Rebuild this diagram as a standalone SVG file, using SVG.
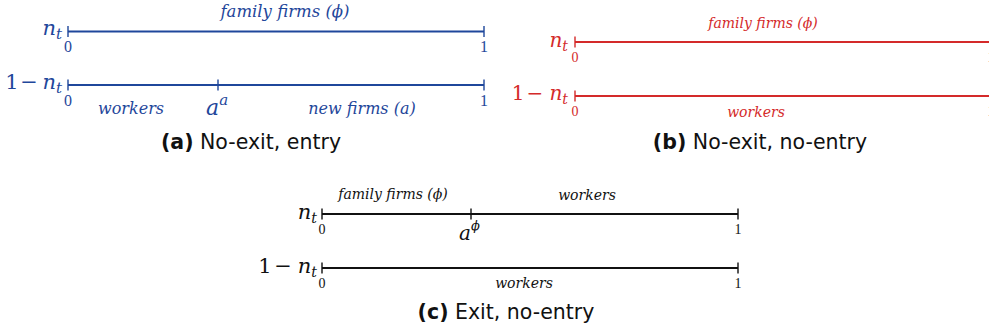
<svg xmlns="http://www.w3.org/2000/svg" width="989" height="334" viewBox="0 0 989 334">
<style>
.m{font-family:"DejaVu Serif","Liberation Serif",serif;font-style:italic}
.u{font-family:"DejaVu Serif","Liberation Serif",serif}
.d{font-family:"Liberation Serif","DejaVu Serif",serif}
.c{font-family:"DejaVu Sans","Liberation Sans",sans-serif;font-size:20.5px}
.ax{stroke-width:2;fill:none}
.tk{stroke-width:1.4;fill:none}
.blue{fill:#1f479b;stroke:#1f479b}
.red{fill:#d42a2a;stroke:#d42a2a}
.blk{fill:#111;stroke:#111}
text{stroke:none}
</style>
<rect width="989" height="334" fill="#fff"/>
<g id="panel-a" class="blue">
  <path class="ax blue" d="M68 31.5H484M68 85H484"/>
  <path class="tk blue" d="M68 26V37M484 26V37M68 79.5V90.5M218 79.5V90.5M484 79.5V90.5"/>
  <text class="m" x="62" y="35" font-size="21" text-anchor="end">n<tspan font-size="15" dy="4">t</tspan></text>
  <text class="u" x="12" y="89" font-size="21" text-anchor="middle">1</text>
  <text class="u" x="29" y="89" font-size="21" text-anchor="middle">−</text>
  <text class="m" x="62" y="89" font-size="21" text-anchor="end">n<tspan font-size="15" dy="4">t</tspan></text>
  <text class="d" x="68" y="52" font-size="16" text-anchor="middle">0</text>
  <text class="d" x="484" y="52" font-size="16" text-anchor="middle">1</text>
  <text class="d" x="68" y="106" font-size="16" text-anchor="middle">0</text>
  <text class="d" x="484" y="106" font-size="16" text-anchor="middle">1</text>
  <text class="m" x="285" y="17" font-size="16.5" text-anchor="middle">family firms (ϕ)</text>
  <text class="m" x="131" y="114" font-size="16" text-anchor="middle">workers</text>
  <text class="m" x="362" y="114" font-size="16" text-anchor="middle">new firms (a)</text>
  <text class="m" x="206" y="115" font-size="22">a<tspan font-size="15" dy="-10">a</tspan></text>
  <text class="c" x="251" y="149" text-anchor="middle" fill="#111"><tspan font-weight="bold">(a)</tspan> No-exit, entry</text>
</g>
<g id="panel-b" class="red">
  <path class="ax red" d="M575 42H991M575 96H991"/>
  <path class="tk red" d="M575 36.5V47.5M991 36.5V47.5M575 90.5V101.5M991 90.5V101.5"/>
  <text class="m" x="568" y="47" font-size="20" text-anchor="end">n<tspan font-size="14" dy="4">t</tspan></text>
  <text class="u" x="518" y="100" font-size="20" text-anchor="middle">1</text>
  <text class="u" x="535" y="100" font-size="20" text-anchor="middle">−</text>
  <text class="m" x="568" y="100" font-size="20" text-anchor="end">n<tspan font-size="14" dy="4">t</tspan></text>
  <text class="d" x="575" y="62" font-size="14" text-anchor="middle">0</text>
  <text class="d" x="991" y="62" font-size="14" text-anchor="middle">1</text>
  <text class="d" x="575" y="116" font-size="14" text-anchor="middle">0</text>
  <text class="d" x="991" y="116" font-size="14" text-anchor="middle">1</text>
  <text class="m" x="763" y="28" font-size="14" text-anchor="middle">family firms (ϕ)</text>
  <text class="m" x="756" y="117" font-size="14" text-anchor="middle">workers</text>
  <text class="c" x="760" y="149" text-anchor="middle" fill="#111"><tspan font-weight="bold">(b)</tspan> No-exit, no-entry</text>
</g>
<g id="panel-c" class="blk">
  <path class="ax blk" d="M322 214H738M322 268H738"/>
  <path class="tk blk" d="M322 208.5V219.5M471 208.5V219.5M738 208.5V219.5M322 262.5V273.5M738 262.5V273.5"/>
  <text class="m" x="317" y="219" font-size="21" text-anchor="end">n<tspan font-size="14" dy="4">t</tspan></text>
  <text class="u" x="265" y="273" font-size="21" text-anchor="middle">1</text>
  <text class="u" x="283" y="273" font-size="21" text-anchor="middle">−</text>
  <text class="m" x="317" y="273" font-size="21" text-anchor="end">n<tspan font-size="14" dy="4">t</tspan></text>
  <text class="d" x="322" y="234" font-size="14" text-anchor="middle">0</text>
  <text class="d" x="738" y="234" font-size="14" text-anchor="middle">1</text>
  <text class="d" x="322" y="288" font-size="14" text-anchor="middle">0</text>
  <text class="d" x="738" y="288" font-size="14" text-anchor="middle">1</text>
  <text class="m" x="393" y="199" font-size="14" text-anchor="middle">family firms (ϕ)</text>
  <text class="m" x="587" y="200" font-size="14" text-anchor="middle">workers</text>
  <text class="m" x="524" y="288" font-size="14" text-anchor="middle">workers</text>
  <text class="m" x="459" y="240" font-size="20">a<tspan font-size="13" dy="-10">ϕ</tspan></text>
  <text class="c" x="506" y="319" text-anchor="middle" fill="#111"><tspan font-weight="bold">(c)</tspan> Exit, no-entry</text>
</g>
</svg>
